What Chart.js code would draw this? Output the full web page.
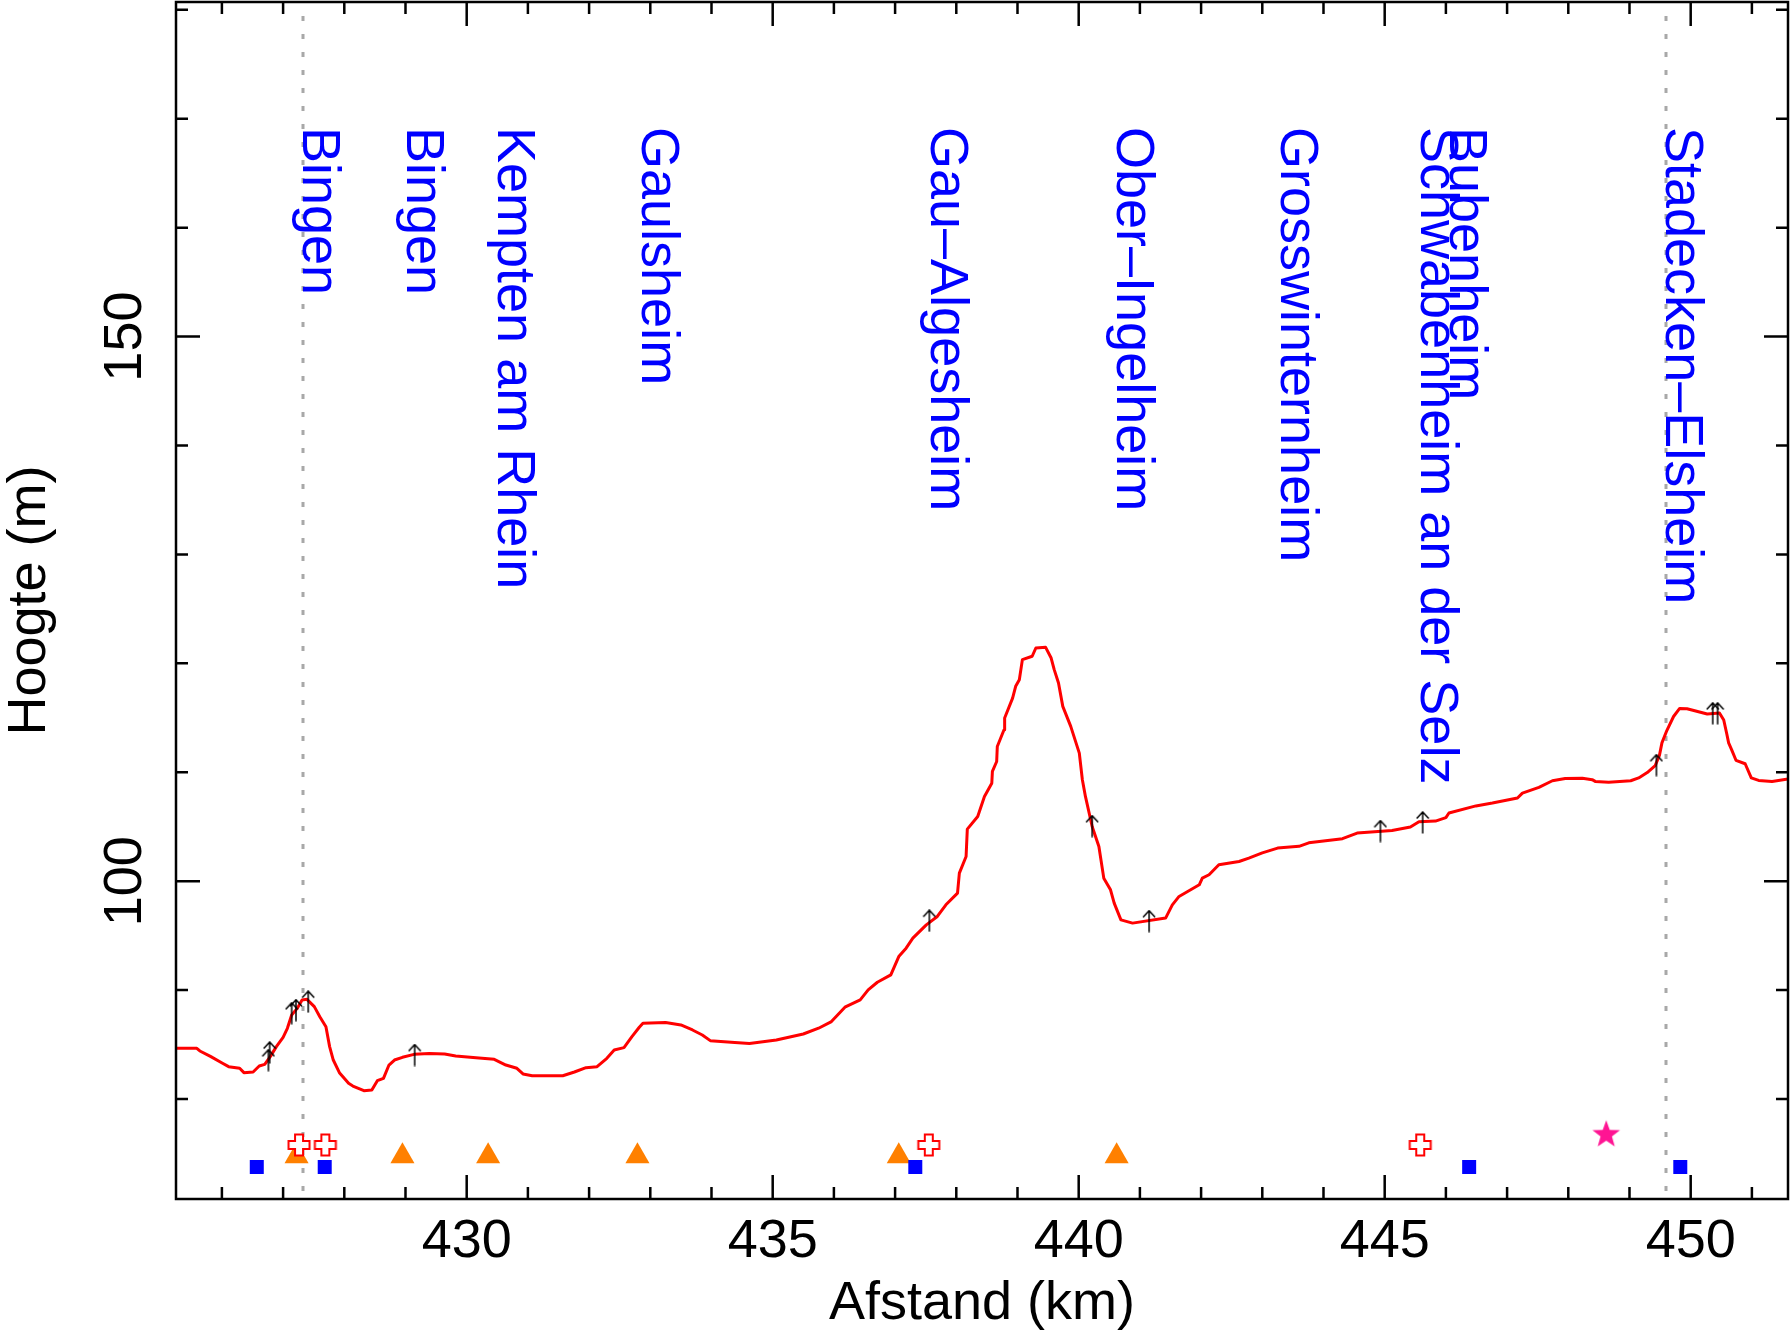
<!DOCTYPE html>
<html>
<head>
<meta charset="utf-8">
<script src="https://cdn.jsdelivr.net/npm/chart.js@4.4.1/dist/chart.umd.min.js"></script>
<style>
  html, body { margin: 0; padding: 0; background: #fff; }
  canvas { display: block; }
</style>
</head>
<body>
<canvas id="chart" width="1790" height="1332"></canvas>
<script>
// elevation profile (km, m)
const profileKm = [
  425.25, 425.59, 425.64, 425.82, 426.01, 426.11, 426.29, 426.36, 426.51, 426.61,
  426.70, 426.79, 426.89, 427.00, 427.07, 427.14, 427.23, 427.31, 427.39, 427.51,
  427.60, 427.70, 427.76, 427.82, 427.92, 428.07, 428.14, 428.32, 428.45, 428.54,
  428.64, 428.73, 428.82, 428.95, 429.14, 429.39, 429.64, 429.82, 430.20, 430.45,
  430.64, 430.82, 430.92, 431.07, 431.57, 431.76, 431.95, 432.13, 432.29, 432.41,
  432.57, 432.70, 432.82, 432.88, 433.25, 433.50, 433.69, 433.85, 433.98, 434.38,
  434.62, 435.06, 435.50, 435.75, 435.96, 436.18, 436.43, 436.56, 436.71, 436.93,
  437.06, 437.18, 437.29, 437.51, 437.69, 437.83, 438.02, 438.05, 438.16, 438.18,
  438.35, 438.46, 438.58, 438.59, 438.66, 438.67, 438.78, 438.79, 438.92, 438.97,
  439.03, 439.08, 439.24, 439.30, 439.46, 439.55, 439.60, 439.67, 439.74, 439.87,
  440.01, 440.06, 440.11, 440.22, 440.33, 440.41, 440.52, 440.58, 440.69, 440.88,
  441.42, 441.53, 441.64, 441.97, 442.02, 442.13, 442.29, 442.62, 442.78, 443.00,
  443.25, 443.60, 443.76, 444.31, 444.55, 445.12, 445.42, 445.56, 445.83, 446.00,
  446.05, 446.49, 446.76, 447.17, 447.25, 447.52, 447.74, 447.95, 448.23, 448.39,
  448.44, 448.66, 449.02, 449.15, 449.29, 449.42, 449.49, 449.53, 449.61, 449.72,
  449.82, 449.94, 450.27, 450.47, 450.54, 450.59, 450.62, 450.67, 450.74, 450.89,
  450.99, 451.11, 451.33, 451.59
];
const profileM = [
  84.66, 84.66, 84.41, 83.89, 83.28, 82.97, 82.82, 82.42, 82.48, 83.03,
  83.18, 83.89, 84.81, 85.66, 86.49, 87.71, 88.32, 89.09, 89.15, 88.48,
  87.56, 86.64, 84.81, 83.58, 82.42, 81.44, 81.19, 80.76, 80.82, 81.68,
  81.90, 83.12, 83.58, 83.83, 84.10, 84.17, 84.13, 83.95, 83.77, 83.64,
  83.12, 82.82, 82.30, 82.14, 82.14, 82.48, 82.88, 82.97, 83.74, 84.50,
  84.72, 85.73, 86.59, 86.96, 87.02, 86.80, 86.34, 85.88, 85.36, 85.18,
  85.10, 85.42, 85.97, 86.50, 87.11, 88.43, 89.10, 90.02, 90.72, 91.40,
  93.08, 93.85, 94.77, 95.99, 96.76, 97.83, 98.90, 100.74, 102.27, 104.78,
  105.94, 107.78, 109.00, 110.08, 110.99, 112.37, 113.90, 114.98, 116.81, 117.89,
  118.50, 120.34, 120.65, 121.41, 121.47, 120.49, 119.42, 118.19, 116.05, 114.21,
  111.76, 109.31, 107.78, 105.02, 103.19, 100.28, 99.21, 97.99, 96.45, 96.15,
  96.61, 97.83, 98.60, 99.67, 100.28, 100.59, 101.51, 101.81, 102.12, 102.60,
  103.04, 103.20, 103.52, 103.90, 104.42, 104.65, 104.97, 105.46, 105.52, 105.84,
  106.26, 106.91, 107.17, 107.64, 108.09, 108.62, 109.22, 109.42, 109.45, 109.32,
  109.16, 109.09, 109.22, 109.48, 109.97, 110.61, 111.57, 112.70, 113.83, 115.12,
  115.86, 115.83, 115.35, 115.45, 114.80, 113.51, 112.70, 112.06, 111.10, 110.78,
  109.48, 109.25, 109.16, 109.38
];

// small arrows on the profile
const arrowKm = [426.78, 426.76, 427.14, 427.21, 427.41, 429.15, 437.56, 440.22, 441.15, 444.93, 445.62, 449.44, 450.36, 450.44];
const arrowM  = [84.27, 83.56, 87.87, 88.15, 88.94, 84.04, 96.37, 105.05, 96.33, 104.60, 105.39, 110.65, 115.41, 115.41];

// symbols along the bottom
const squareKm   = [426.57, 427.68, 437.33, 446.38, 449.83];
const squareM    = [73.76, 73.76, 73.76, 73.76, 73.76];
const triangleKm = [427.22, 428.95, 430.35, 432.79, 437.06, 440.62];
const triangleM  = [74.75, 74.75, 74.75, 74.75, 74.75, 74.75];
const crossKm    = [427.26, 427.69, 437.55, 445.58];
const crossM     = [75.78, 75.78, 75.78, 75.78];
const starKm     = [448.62];
const starM      = [76.82];

// place names and dotted guides
const stationNames = ["Bingen", "Bingen", "Kempten am Rhein", "Gaulsheim", "Gau–Algesheim",
  "Ober–Ingelheim", "Grosswinternheim", "Schwabenheim an der Selz", "Bubenheim", "Stadecken–Elsheim"];
const stationKm = [427.32, 429.02, 430.51, 432.86, 437.58, 440.62, 443.31, 445.59, 446.06, 449.60];
const guideKm = [427.32, 449.60];

// ticks
const xMajorTicks = [430, 435, 440, 445, 450];
const xMinorTicks = [426, 427, 428, 429, 431, 432, 433, 434, 436, 437, 438, 439, 441, 442, 443, 444, 446, 447, 448, 449, 451];
const yMajorTicks = [100, 150];
const yMinorTicks = [80, 90, 110, 120, 130, 140, 160, 170, 180];

const FONT = "'Liberation Sans', Arial, Helvetica, sans-serif";
Chart.defaults.font.family = FONT;

const pts = (xs, ys) => xs.map((v, i) => ({ x: v, y: ys[i] }));

function arrowImage() {
  const c = document.createElement("canvas");
  c.width = 14; c.height = 23;
  const g = c.getContext("2d");
  g.strokeStyle = "#000"; g.lineWidth = 1.5;
  g.beginPath();
  g.moveTo(7, 22.5); g.lineTo(7, 1);
  g.moveTo(1, 7.5); g.lineTo(7, 1); g.lineTo(13, 7.5);
  g.stroke();
  return c;
}

function crossImage() {
  const c = document.createElement("canvas");
  c.width = 26; c.height = 26;
  const g = c.getContext("2d");
  const m = 13, a = 4, r = 10.5;
  const p = [[m - a, m - r], [m + a, m - r], [m + a, m - a], [m + r, m - a], [m + r, m + a], [m + a, m + a],
             [m + a, m + r], [m - a, m + r], [m - a, m + a], [m - r, m + a], [m - r, m - a], [m - a, m - a]];
  g.beginPath();
  p.forEach((q, i) => i ? g.lineTo(q[0], q[1]) : g.moveTo(q[0], q[1]));
  g.closePath();
  g.fillStyle = "#fff"; g.fill();
  g.strokeStyle = "#ff0000"; g.lineWidth = 2; g.stroke();
  return c;
}

function starImage() {
  const c = document.createElement("canvas");
  c.width = 32; c.height = 32;
  const g = c.getContext("2d");
  g.beginPath();
  for (let i = 0; i < 10; i++) {
    const r = i % 2 ? 6 : 14.5;
    const ang = -Math.PI / 2 + i * Math.PI / 5;
    const px = 16 + r * Math.cos(ang), py = 17 + r * Math.sin(ang);
    i ? g.lineTo(px, py) : g.moveTo(px, py);
  }
  g.closePath();
  g.fillStyle = "#ff1493"; g.fill();
  return c;
}

const decor = {
  id: "decor",
  beforeDatasetsDraw(chart) {
    const { ctx, chartArea: a, scales: { x } } = chart;
    ctx.save();
    ctx.strokeStyle = "#a8a8a8";
    ctx.lineWidth = 3;
    ctx.setLineDash([5, 13]);
    guideKm.forEach(k => {
      const px = Math.round(x.getPixelForValue(k));
      ctx.beginPath();
      ctx.moveTo(px, a.top + 14);
      ctx.lineTo(px, a.bottom);
      ctx.stroke();
    });
    ctx.setLineDash([]);

    ctx.fillStyle = "#0000ff";
    ctx.font = "54px " + FONT;
    ctx.textAlign = "left";
    ctx.textBaseline = "alphabetic";
    stationNames.forEach((name, i) => {
      ctx.save();
      ctx.translate(x.getPixelForValue(stationKm[i]), a.top + 125);
      ctx.rotate(Math.PI / 2);
      ctx.fillText(name, 0, 0);
      ctx.restore();
    });
    ctx.restore();
  },
  afterDraw(chart) {
    const { ctx, chartArea: a, scales: { x, y } } = chart;
    ctx.save();
    ctx.strokeStyle = "#000";
    ctx.lineWidth = 2.5;
    ctx.strokeRect(a.left, a.top, a.right - a.left, a.bottom - a.top);

    const xTick = (v, len) => {
      const px = x.getPixelForValue(v);
      ctx.beginPath();
      ctx.moveTo(px, a.bottom); ctx.lineTo(px, a.bottom - len);
      ctx.moveTo(px, a.top); ctx.lineTo(px, a.top + len);
      ctx.stroke();
    };
    const yTick = (v, len) => {
      const py = y.getPixelForValue(v);
      ctx.beginPath();
      ctx.moveTo(a.left, py); ctx.lineTo(a.left + len, py);
      ctx.moveTo(a.right, py); ctx.lineTo(a.right - len, py);
      ctx.stroke();
    };
    xMinorTicks.forEach(v => xTick(v, 12));
    xMajorTicks.forEach(v => xTick(v, 24));
    yMinorTicks.forEach(v => yTick(v, 12));
    yMajorTicks.forEach(v => yTick(v, 24));

    // y tick labels and title, rotated
    ctx.fillStyle = "#000";
    ctx.font = "54px " + FONT;
    ctx.textAlign = "center";
    ctx.textBaseline = "middle";
    yMajorTicks.forEach(v => {
      ctx.save();
      ctx.translate(a.left - 50, y.getPixelForValue(v));
      ctx.rotate(-Math.PI / 2);
      ctx.fillText(String(v), 0, 0);
      ctx.restore();
    });
    ctx.save();
    ctx.translate(30, (a.top + a.bottom) / 2);
    ctx.rotate(-Math.PI / 2);
    ctx.fillText("Hoogte (m)", 0, 0);
    ctx.restore();
    ctx.restore();
  }
};

new Chart(document.getElementById("chart"), {
  type: "scatter",
  data: {
    datasets: [
      { label: "arrows", data: pts(arrowKm, arrowM), pointStyle: arrowImage(), pointRadius: 6 },
      { label: "crosses", data: pts(crossKm, crossM), pointStyle: crossImage(), pointRadius: 6 },
      { label: "squares", data: pts(squareKm, squareM), pointStyle: "rect", pointRadius: 9.9,
        backgroundColor: "#0000ff", borderWidth: 0 },
      { label: "triangles", data: pts(triangleKm, triangleM), pointStyle: "triangle", pointRadius: 13.9,
        backgroundColor: "#ff8000", borderWidth: 0 },
      { label: "star", data: pts(starKm, starM), pointStyle: starImage(), pointRadius: 6 },
      { label: "profile", data: pts(profileKm, profileM), showLine: true, borderColor: "#ff0000",
        borderWidth: 3, pointRadius: 0, tension: 0, borderJoinStyle: "round" }
    ]
  },
  options: {
    responsive: false,
    animation: false,
    events: [],
    devicePixelRatio: 1,
    layout: { autoPadding: false, padding: { top: 2, right: 2, left: 0, bottom: 0 } },
    plugins: { legend: { display: false }, tooltip: { enabled: false } },
    scales: {
      x: {
        type: "linear",
        min: 425.25,
        max: 451.59,
        afterBuildTicks: s => { s.ticks = xMajorTicks.map(v => ({ value: v })); },
        afterFit: s => { s.height = 133; },
        grid: { display: false, drawTicks: false },
        border: { display: false },
        ticks: { color: "#000", font: { size: 54 }, padding: 11, autoSkip: false, maxRotation: 0,
                 callback: v => String(v) },
        title: { display: true, text: "Afstand (km)", color: "#000", font: { size: 54 },
                 padding: { top: 0, bottom: -5 } }
      },
      y: {
        type: "linear",
        min: 70.82,
        max: 180.72,
        afterFit: s => { s.width = 176; },
        grid: { display: false, drawTicks: false },
        border: { display: false },
        ticks: { display: false }
      }
    }
  },
  plugins: [decor]
});
</script>
</body>
</html>
